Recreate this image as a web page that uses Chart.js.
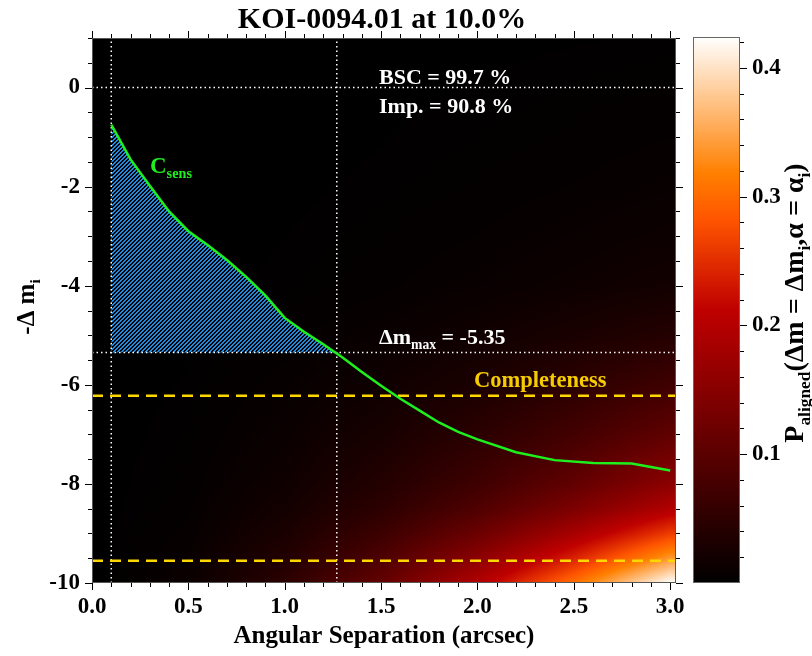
<!DOCTYPE html>
<html><head><meta charset="utf-8">
<script src="https://cdn.jsdelivr.net/npm/chart.js@4.4.1/dist/chart.umd.min.js"></script>
<style>
html,body{margin:0;padding:0;background:#fff;}
#wrap{position:relative;width:812px;height:656px;overflow:hidden;}
#main{position:absolute;left:0;top:0;}
#cbar{position:absolute;left:680px;top:0;}
</style></head><body>
<div id="wrap"><canvas id="main" width="812" height="656"></canvas><canvas id="cbar" width="132" height="656"></canvas></div>
<script>
const FONT = '"Liberation Serif", "Times New Roman", serif';

// ---------- data ----------
const titleText = 'KOI-0094.01 at 10.0%';
const xTickValues = [0, 0.5, 1.0, 1.5, 2.0, 2.5, 3.0];
const yTickValues = [0, -2, -4, -6, -8, -10];
const cbTickValues = [0.1, 0.2, 0.3, 0.4];

// sensitivity curve C_sens
const sensSep = [0.1, 0.2, 0.3, 0.4, 0.5, 0.6, 0.7, 0.8, 0.9, 1.0, 1.1, 1.2, 1.3, 1.4, 1.5, 1.6, 1.7, 1.8, 1.9, 2.0, 2.2, 2.4, 2.6, 2.8, 3.0];
const sensDm  = [-0.75, -1.45, -1.98, -2.5, -2.9, -3.18, -3.48, -3.82, -4.2, -4.65, -4.93, -5.18, -5.45, -5.74, -6.02, -6.28, -6.52, -6.76, -6.95, -7.1, -7.36, -7.52, -7.58, -7.59, -7.73];

const sepMin = 0.1;       // inner working angle
const sepMax = 1.27;      // separation where C_sens hits dm_max
const dmMax = -5.35;
const completenessLevels = [-6.22, -9.55];
const bscLabel = 'BSC = 99.7 %';
const impLabel = 'Imp. = 90.8 %';
const dmMaxLabel = ' = -5.35';

// P_aligned map (rows: delta m, columns: separation)
const sepGrid = [0, 0.5, 1.0, 1.5, 2.0, 2.5, 3.0];
const dmGrid = [1, 0, -1, -2, -3, -4, -5, -6, -7, -8, -8.5, -9, -9.5, -10];
const pAligned = [
  [0, 0.0001, 0.0002, 0.0005, 0.0009, 0.0014, 0.002],
  [0, 0.0001, 0.0004, 0.0010, 0.0018, 0.0028, 0.004],
  [0, 0.0002, 0.0007, 0.0015, 0.0027, 0.0042, 0.006],
  [0, 0.0003, 0.0010, 0.0022, 0.0040, 0.0062, 0.009],
  [0, 0.0004, 0.0016, 0.0035, 0.0062, 0.0097, 0.014],
  [0, 0.0006, 0.0023, 0.0052, 0.0093, 0.0146, 0.021],
  [0, 0.0011, 0.0044, 0.0100, 0.0180, 0.0280, 0.040],
  [0, 0.0019, 0.0076, 0.0170, 0.0300, 0.0480, 0.070],
  [0, 0.0029, 0.0114, 0.0260, 0.0470, 0.0740, 0.106],
  [0, 0.0042, 0.0170, 0.0385, 0.0690, 0.1080, 0.155],
  [0, 0.0053, 0.0215, 0.0490, 0.0880, 0.1380, 0.196],
  [0, 0.0071, 0.0285, 0.0660, 0.1180, 0.1850, 0.262],
  [0, 0.0092, 0.0375, 0.0860, 0.1540, 0.2400, 0.338],
  [0, 0.0118, 0.0480, 0.1100, 0.1960, 0.3050, 0.424]
];
const cbMin = 0, cbMax = 0.424;

// ---------- helpers ----------
function heat(v) {
  const t = Math.max(0, Math.min(1, (v - cbMin) / (cbMax - cbMin)));
  return [255 * Math.min(1, 1.5 * t), 255 * Math.max(0, Math.min(1, 2 * t - 1)), 255 * Math.max(0, Math.min(1, 4 * t - 3))];
}
function locate(arr, v) {
  const asc = arr[arr.length - 1] > arr[0];
  const n = arr.length;
  if (asc) { if (v <= arr[0]) return [0, 0]; if (v >= arr[n - 1]) return [n - 2, 1]; }
  else { if (v >= arr[0]) return [0, 0]; if (v <= arr[n - 1]) return [n - 2, 1]; }
  for (let i = 0; i < n - 1; i++) {
    const a = arr[i], b = arr[i + 1];
    if ((v - a) * (v - b) <= 0) return [i, (v - a) / (b - a)];
  }
  return [n - 2, 1];
}
function sampleP(sep, dm) {
  const [i, fx] = locate(sepGrid, sep);
  const [j, fy] = locate(dmGrid, dm);
  const a = pAligned[j][i], b = pAligned[j][i + 1], c = pAligned[j + 1][i], d = pAligned[j + 1][i + 1];
  return (a * (1 - fx) + b * fx) * (1 - fy) + (c * (1 - fx) + d * fx) * fy;
}
function richWidth(ctx, parts, size) {
  let w = 0;
  for (const p of parts) { ctx.font = 'bold ' + (p.sub ? size * 0.62 : size) + 'px ' + FONT; w += ctx.measureText(p.t).width; }
  return w;
}
function drawRich(ctx, x, y, parts, size, color, align) {
  const w = richWidth(ctx, parts, size);
  let cx = align === 'center' ? x - w / 2 : x;
  ctx.fillStyle = color; ctx.textAlign = 'left'; ctx.textBaseline = 'alphabetic';
  for (const p of parts) {
    ctx.font = 'bold ' + (p.sub ? size * 0.62 : size) + 'px ' + FONT;
    ctx.fillText(p.t, cx, y + (p.sub ? size * 0.24 : 0));
    cx += ctx.measureText(p.t).width;
  }
}
function makeHatch(ctx) {
  const c = document.createElement('canvas'); c.width = 4; c.height = 4;
  const g = c.getContext('2d'); const id = g.createImageData(4, 4);
  for (let y = 0; y < 4; y++) for (let x = 0; x < 4; x++) {
    const k = (y * 4 + x) * 4;
    if ((x + y) % 4 < 2) { id.data[k] = 30; id.data[k + 1] = 140; id.data[k + 2] = 225; id.data[k + 3] = 255; }
  }
  g.putImageData(id, 0, 0);
  return ctx.createPattern(c, 'repeat');
}

// ---------- main chart ----------
const mainCtx = document.getElementById('main').getContext('2d');
const curvePts = sensSep.map((s, i) => ({ x: s, y: sensDm[i] }));
const hatchPts = curvePts.filter(p => p.x <= sepMax).concat([{ x: sepMax, y: dmMax }]);
const X_MAX = 3.03, Y_MIN = -10, Y_MAX = 1;

const dotted = { borderColor: '#ffffff', borderWidth: 1.5, borderDash: [1.5, 3], pointRadius: 0, showLine: true, fill: false, order: 2 };
const datasets = [
  Object.assign({ label: 'C_sens', data: curvePts, borderColor: '#1ef01e', borderWidth: 2.5, pointRadius: 0, showLine: true, fill: false, order: 0 }),
  Object.assign({ label: 'v1', data: [{ x: sepMin, y: Y_MIN }, { x: sepMin, y: Y_MAX }] }, dotted),
  Object.assign({ label: 'v2', data: [{ x: sepMax, y: Y_MIN }, { x: sepMax, y: Y_MAX }] }, dotted),
  Object.assign({ label: 'h0', data: [{ x: 0, y: 0 }, { x: X_MAX, y: 0 }] }, dotted),
  Object.assign({ label: 'hmax', data: [{ x: 0, y: dmMax }, { x: X_MAX, y: dmMax }] }, dotted),
  ...completenessLevels.map(v => ({ label: 'comp', data: [{ x: 0, y: v }, { x: X_MAX, y: v }], borderColor: '#ffd700', borderWidth: 2.5, borderDash: [11, 7], pointRadius: 0, showLine: true, fill: false, order: 1 })),
  { label: 'hatch', data: hatchPts, borderWidth: 0, borderColor: 'rgba(0,0,0,0)', backgroundColor: makeHatch(mainCtx), fill: { value: dmMax }, pointRadius: 0, showLine: true, order: 5 }
];

const heatmapPlugin = {
  id: 'heatmap',
  beforeDatasetsDraw(chart) {
    const { ctx, chartArea: a, scales: { x, y } } = chart;
    const w = Math.round(a.right - a.left), h = Math.round(a.bottom - a.top);
    const img = ctx.createImageData(w, h);
    for (let py = 0; py < h; py++) {
      const dm = y.getValueForPixel(a.top + py + 0.5);
      for (let px = 0; px < w; px++) {
        const s = x.getValueForPixel(a.left + px + 0.5);
        const c = heat(sampleP(s, dm));
        const k = (py * w + px) * 4;
        img.data[k] = c[0]; img.data[k + 1] = c[1]; img.data[k + 2] = c[2]; img.data[k + 3] = 255;
      }
    }
    ctx.putImageData(img, Math.round(a.left), Math.round(a.top));
  }
};

const decorPlugin = {
  id: 'decor',
  afterDatasetsDraw(chart) {
    const { ctx, scales: { x, y } } = chart;
    ctx.save();
    drawRich(ctx, x.getPixelForValue(1.489), y.getPixelForValue(0.072), [{ t: bscLabel }], 22, '#ffffff', 'left');
    drawRich(ctx, x.getPixelForValue(1.489), y.getPixelForValue(-0.514), [{ t: impLabel }], 22, '#ffffff', 'left');
    drawRich(ctx, x.getPixelForValue(1.489), y.getPixelForValue(-5.176), [{ t: 'Δm' }, { t: 'max', sub: true }, { t: dmMaxLabel }], 22, '#ffffff', 'left');
    drawRich(ctx, x.getPixelForValue(1.982), y.getPixelForValue(-6.034), [{ t: 'Completeness' }], 22.5, '#f5cc00', 'left');
    drawRich(ctx, x.getPixelForValue(0.301), y.getPixelForValue(-1.719), [{ t: 'C' }, { t: 'sens', sub: true }], 23, '#1ef01e', 'left');
    ctx.restore();
  },
  afterDraw(chart) {
    const { ctx, chartArea: a, scales: { x, y } } = chart;
    ctx.save();
    // frame
    ctx.strokeStyle = '#555'; ctx.lineWidth = 1;
    ctx.strokeRect(Math.round(a.left) + 0.5, Math.round(a.top) + 0.5, Math.round(a.right - a.left) - 1, Math.round(a.bottom - a.top) - 1);
    // ticks
    ctx.strokeStyle = '#000'; ctx.beginPath();
    for (let i = 0; i <= 30; i++) {
      const v = i / 10, major = i % 5 === 0, L = major ? 7 : 4;
      const px = Math.round(x.getPixelForValue(v)) + 0.5;
      ctx.moveTo(px, a.bottom); ctx.lineTo(px, a.bottom + L);
      ctx.moveTo(px, a.top); ctx.lineTo(px, a.top - L);
    }
    for (let i = 0; i <= 22; i++) {
      const v = -10 + i * 0.5, major = (i % 4 === 0), L = major ? 7 : 4;
      const py = Math.round(y.getPixelForValue(v)) + 0.5;
      ctx.moveTo(a.left, py); ctx.lineTo(a.left - L, py);
      ctx.moveTo(a.right, py); ctx.lineTo(a.right + L, py);
    }
    ctx.stroke();
    // title
    drawRich(ctx, (a.left + a.right) / 2 - 2, 28, [{ t: titleText }], 30, '#000', 'center');
    // x title
    drawRich(ctx, (a.left + a.right) / 2, 643, [{ t: 'Angular Separation (arcsec)' }], 25, '#000', 'center');
    // y title
    ctx.translate(34, 307); ctx.rotate(-Math.PI / 2);
    drawRich(ctx, 0, 0, [{ t: '-Δ m' }, { t: 'i', sub: true }], 25, '#000', 'center');
    ctx.restore();
  }
};

new Chart(mainCtx, {
  type: 'scatter',
  data: { datasets },
  options: {
    responsive: false, animation: false, devicePixelRatio: 1,
    layout: { padding: { left: 0, top: 38, right: 136, bottom: 0 } },
    elements: { line: { tension: 0 } },
    plugins: { legend: { display: false }, tooltip: { enabled: false }, title: { display: false } },
    scales: {
      x: {
        type: 'linear', min: 0, max: X_MAX,
        afterBuildTicks: s => { s.ticks = xTickValues.map(v => ({ value: v })); },
        afterFit: s => { s.height = 73; },
        ticks: { autoSkip: false, maxRotation: 0, padding: 10, color: '#000', font: { family: FONT, size: 23, weight: 'bold' }, callback: v => Number(v).toFixed(1) },
        grid: { display: false, drawTicks: false }, border: { display: false }
      },
      y: {
        type: 'linear', min: Y_MIN, max: Y_MAX,
        afterBuildTicks: s => { s.ticks = yTickValues.map(v => ({ value: v })); },
        afterFit: s => { s.width = 92; },
        ticks: { autoSkip: false, padding: 12, color: '#000', font: { family: FONT, size: 23, weight: 'bold' }, callback: v => String(v) },
        grid: { display: false, drawTicks: false }, border: { display: false }
      }
    }
  },
  plugins: [heatmapPlugin, decorPlugin]
});

// ---------- colour bar ----------
const cbarPlugin = {
  id: 'cbar',
  beforeDatasetsDraw(chart) {
    const { ctx, chartArea: a, scales: { y } } = chart;
    for (let py = Math.round(a.top); py < Math.round(a.bottom); py++) {
      const c = heat(y.getValueForPixel(py + 0.5));
      ctx.fillStyle = 'rgb(' + c.map(Math.round).join(',') + ')';
      ctx.fillRect(a.left, py, a.right - a.left, 1);
    }
  },
  afterDraw(chart) {
    const { ctx, chartArea: a, scales: { y } } = chart;
    ctx.save();
    ctx.strokeStyle = '#666'; ctx.lineWidth = 1;
    ctx.strokeRect(Math.round(a.left) + 0.5, Math.round(a.top) + 0.5, Math.round(a.right - a.left) - 1, Math.round(a.bottom - a.top) - 1);
    ctx.strokeStyle = '#000'; ctx.beginPath();
    for (let i = 1; i <= 21; i++) {
      const v = i * 0.02, major = i % 5 === 0, L = major ? 7 : 4;
      const py = Math.round(y.getPixelForValue(v)) + 0.5;
      ctx.moveTo(a.right, py); ctx.lineTo(a.right + L, py);
    }
    ctx.stroke();
    ctx.translate(123, 303); ctx.rotate(-Math.PI / 2);
    drawRich(ctx, 0, 0, [{ t: 'P' }, { t: 'aligned', sub: true }, { t: '(Δm = Δm' }, { t: 'i', sub: true }, { t: ',α = α' }, { t: 'i', sub: true }, { t: ')' }], 28, '#000', 'center');
    ctx.restore();
  }
};
new Chart(document.getElementById('cbar').getContext('2d'), {
  type: 'scatter',
  data: { datasets: [] },
  options: {
    responsive: false, animation: false, devicePixelRatio: 1,
    layout: { padding: { left: 13, top: 37, right: 0, bottom: 73 } },
    plugins: { legend: { display: false }, tooltip: { enabled: false } },
    scales: {
      x: { display: false, min: 0, max: 1 },
      y: {
        position: 'right', min: cbMin, max: cbMax,
        afterBuildTicks: s => { s.ticks = cbTickValues.map(v => ({ value: v })); },
        afterFit: s => { s.width = 72; },
        ticks: { autoSkip: false, padding: 12, color: '#000', font: { family: FONT, size: 23, weight: 'bold' }, callback: v => Number(v).toFixed(1) },
        grid: { display: false, drawTicks: false }, border: { display: false }
      }
    }
  },
  plugins: [cbarPlugin]
});
</script></body></html>
